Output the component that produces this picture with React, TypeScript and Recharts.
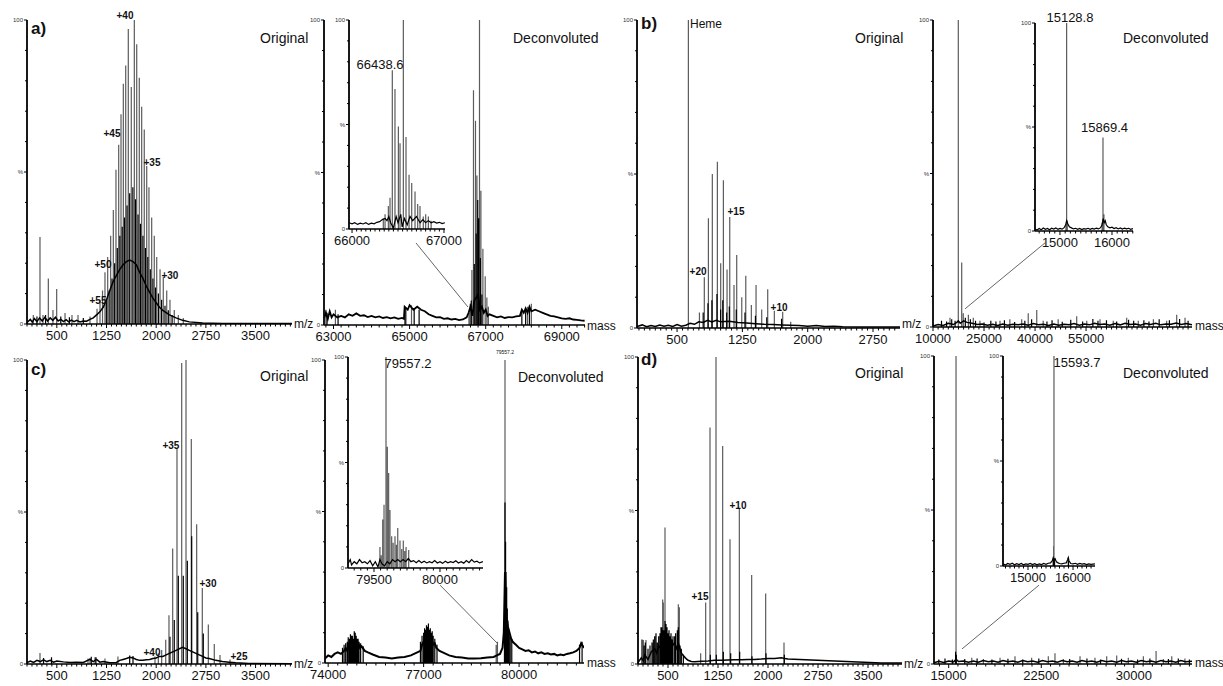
import React from 'react';
import { LineChart, Line, XAxis, YAxis, ReferenceDot, ReferenceLine } from 'recharts';

const FONT = "'Liberation Sans', Arial, Helvetica, sans-serif";

type P = [number, number];

// ---------- a) Original ----------
const aOrigTicks = [500, 1250, 2000, 2750, 3500];
const aOrigGrey: P[] = [[145,3],[246,28.6],[291,3],[372,15],[442,4.6],[498,11.5],[624,3.6],[729,3],[820,3],[1001,2.5],[1107,5],[1152,8],[1190,11],[1227,17],[1268,22],[1313,29],[1353,37.5],[1393,50.7],[1434,59],[1469,69],[1504,79],[1540,85],[1579,97],[1624,78],[1670,100],[1706,92],[1745,81],[1781,71.5],[1820,64],[1857,52],[1891,45],[1932,35],[1971,29],[2008,22],[2058,18],[2107,15.5],[2159,11],[2208,8],[2273,4.6],[2334,3],[2409,2]];
const aOrigBlack: P[] = [[1248,8],[1290,11],[1333,15],[1373,20],[1413,25],[1452,29],[1487,32],[1522,35],[1560,39],[1600,43],[1648,45],[1688,41],[1726,36],[1763,33],[1800,29],[1838,25],[1874,22],[1911,18],[1951,15],[1990,12],[2033,10],[2082,8],[2133,6],[2183,4.5],[2240,3],[200,2.5],[330,3],[560,2.5],[690,2.2],[900,2]];
const aOrigBase: P[] = [[50,0.5],[100,1.5],[130,0.6],[160,1.8],[200,0.8],[240,2],[280,1],[320,2.2],[360,1],[400,2],[440,1.2],[480,2.2],[520,1],[560,1.5],[600,0.8],[640,1.4],[680,0.7],[720,1.3],[760,0.8],[800,1.2],[850,0.7],[900,1],[950,0.9],[1000,1.5],[1050,2],[1100,3],[1150,4],[1200,5.5],[1250,8],[1300,11],[1350,14],[1400,16],[1450,18],[1500,19.5],[1550,20.5],[1600,21],[1650,20.5],[1700,19.5],[1750,17],[1800,15],[1850,12.5],[1900,10.5],[1950,8.5],[2000,7],[2050,5.5],[2100,4.5],[2200,3],[2300,2],[2400,1.2],[2500,0.7],[2700,0.3],[3000,0.2],[4050,0.2]];
const aOrigNotes: [number, number, string][] = [[1529,101.6,'+40'],[1333,62.8,'+45'],[1937,53,'+35'],[1197,19.7,'+50'],[1122,7.6,'+55'],[2208,16,'+30']];

// ---------- a) Deconvoluted ----------
const aDecTicks = [63000, 65000, 67000, 69000];
const aDecGrey: P[] = [[62800,5],[63050,5],[64870,6],[65050,6.5],[66560,4],[66593,7],[66637,18],[66679,77],[66732,67],[66769,49],[66837,100],[66874,44],[66926,25],[66987,16],[67031,9],[67070,6],[68100,6],[68200,7]];
const aDecBlack: P[] = [[62830,4],[63120,3.5],[64900,5.5],[65120,5.5],[65250,5],[66620,8],[66700,20],[66750,30],[66790,41],[66816,35],[66860,22],[66900,10],[67950,5],[68050,5.5],[68150,6]];
const aDecBase: P[] = [[62760,2.5],[62800,4],[62850,2],[62900,4.5],[62950,2.5],[63000,3.5],[63100,2.5],[63200,3],[63300,2.5],[63400,3.5],[63500,3],[63600,3.8],[63700,3],[63800,3.2],[63900,2.6],[64000,3],[64100,2.5],[64200,2.8],[64300,2.3],[64400,2.6],[64500,2.2],[64600,2.5],[64700,2],[64800,2.3],[64850,2],[64870,6],[64950,5],[65000,6.5],[65100,5],[65200,6],[65300,5],[65400,4.5],[65500,3.5],[65600,3],[65700,2.5],[65800,2.6],[65900,2],[66000,2.2],[66100,1.8],[66200,2],[66300,1.6],[66400,1.8],[66500,2.5],[66550,4],[66600,6],[66650,3],[66700,8],[66800,10],[66850,5],[66900,6],[66950,4],[67000,5],[67050,3],[67100,3.5],[67200,3],[67300,2.5],[67400,2.8],[67500,2.3],[67600,2.6],[67700,2.5],[67800,2.8],[67900,3],[67950,5],[68000,4],[68050,5.5],[68100,4],[68150,6],[68200,4.5],[68300,5],[68400,4.5],[68500,4],[68600,3.5],[68700,3],[68800,2.8],[68900,2.5],[69000,2.2],[69100,2],[69200,2.2],[69300,1.8],[69400,1.7],[69500,1.5],[69600,1.4]];
const aDecLink: P[] = [[65168,26.9],[66534,5.9]];

// ---------- a) inset ----------
const aInsTicks = [66000, 67000];
const aInsGrey: P[] = [[66340,5],[66359,7],[66395,11],[66413,15],[66438,76],[66467,67],[66504,49],[66522,41],[66558,100],[66587,44],[66620,26],[66649,22],[66685,18],[66714,12],[66739,11],[66775,6],[66801,7],[66830,6],[66860,4]];
const aInsBase: P[] = [[65967,3],[66000,2.5],[66030,3],[66060,2.2],[66090,2.8],[66120,2.4],[66150,3],[66180,2.2],[66210,2.8],[66240,2.5],[66270,3.2],[66300,3.5],[66330,4.5],[66360,5],[66380,4],[66400,6],[66420,3],[66450,0.5],[66480,6],[66500,3],[66530,7],[66545,1],[66570,5],[66600,2],[66630,6],[66660,4],[66700,6],[66740,3],[66770,4.5],[66800,3],[66830,4],[66860,3],[66890,3.5],[66920,2.8],[66950,3.2],[66980,2.6],[67010,3]];
const aInsNotes: [number, number, string][] = [[66304,79,'66438.6']];

// ---------- b) Original ----------
const bOrigTicks = [500, 1250, 2000, 2750];
const bOrigGrey: P[] = [[630,100],[757,5],[813,16.5],[860,35.6],[905,50],[963,54],[1001,21],[1032,48],[1074,19],[1105,36],[1154,14],[1185,23.7],[1243,10],[1289,17],[1353,7.5],[1407,14],[1472,6],[1541,12.6],[1617,5.6],[1713,5.3],[1805,2]];
const bOrigBlack: P[] = [[800,5],[855,8],[900,9],[958,11],[1000,6],[1025,9],[1070,5],[1100,7],[1180,6],[1280,5],[1400,4],[1530,3.5],[1700,3]];
const bOrigBase: P[] = [[40,0.5],[100,1],[150,0.4],[200,0.8],[250,0.5],[300,1],[350,0.6],[400,0.9],[450,0.5],[500,1.1],[550,0.6],[600,0.9],[650,1.5],[700,1.2],[750,2],[800,1.8],[850,2.5],[900,2],[950,2.5],[1000,2],[1100,2.2],[1200,1.8],[1300,1.6],[1400,1.4],[1500,1.2],[1600,1.1],[1700,1],[1800,0.9],[1900,0.8],[2000,0.6],[2100,0.8],[2200,0.5],[2300,0.6],[2400,0.4],[2600,0.3],[2800,0.3],[3060,0.3]];
const bOrigNotes: [number, number, string][] = [[741,18.2,'+20'],[1177,37.7,'+15'],[1671,6.8,'+10']];

// ---------- b) Deconvoluted ----------
const bDecTicks = [10000, 25000, 40000, 55000];
const bDecGrey: P[] = [[15000,3],[17440,100],[18440,21],[18900,4.5],[20400,4],[21850,3],[23800,2],[29700,2],[32600,2.5],[36080,2.5],[38000,4.5],[40500,5.5],[42400,2],[46800,2.5],[52250,3.5],[55200,2],[59100,2.5],[63000,2],[66950,3],[70350,2],[74800,2.5],[78700,2],[81650,4],[84100,3]];
const bDecBlack: P[] = [[12500,2],[14000,1.8],[15500,2.5],[16500,2],[19500,3],[21000,2.5],[22500,2],[25000,1.5],[27000,2],[28500,1.8],[31000,2.2],[34000,1.6],[37000,2],[39000,2.5],[43500,1.8],[45000,2.2],[48000,1.7],[50500,2.4],[54000,1.8],[57000,2.6],[58500,2],[61000,2.2],[64000,1.8],[67500,2.4],[69000,2],[72000,2.2],[73500,1.8],[76500,2.5],[79500,2.2],[82500,2.6],[85000,2]];
const bDecBase: P[] = [[10000,0.3],[11500,0.8],[13000,0.5],[14500,1.2],[16000,0.8],[17000,1.5],[17440,2],[18000,1.2],[19000,2],[20000,1.5],[21500,1.2],[23000,0.8],[24500,1],[26000,0.6],[27500,0.9],[29000,0.5],[30500,1],[32000,0.6],[33500,0.9],[35000,0.7],[36500,1],[38000,0.6],[39500,1.1],[41000,0.7],[42500,0.9],[44000,0.5],[45500,1],[47000,0.6],[48500,0.9],[50000,0.7],[51500,1.1],[53000,0.6],[54500,1],[56000,0.7],[57500,1.2],[59000,0.8],[60500,1],[62000,0.6],[63500,1.1],[65000,0.7],[66500,1.2],[68000,0.8],[69500,1],[71000,0.6],[72500,1.1],[74000,0.8],[75500,1.2],[77000,0.7],[78500,1],[80000,0.9],[81500,1.3],[83000,0.8],[84500,1.1],[86150,0.7]];
const bDecLink: P[] = [[42930,27.4],[19400,5.9]];

// ---------- b) inset ----------
const bInsTicks = [15000, 16000];
const bInsGrey: P[] = [[15115,3],[15128,100],[15140,5],[15810,4],[15827,45],[15845,8]];
const bInsBase: P[] = [[14520,1],[14560,0.5],[14600,1.2],[14640,0.6],[14680,1.4],[14720,0.8],[14760,1.2],[14800,0.6],[14840,1.3],[14880,0.9],[14920,1.5],[14960,0.8],[15000,1.2],[15040,0.9],[15080,1.6],[15110,3],[15128,5],[15150,3.5],[15180,2],[15220,1.5],[15260,1],[15300,1.3],[15340,0.8],[15380,1.2],[15420,0.7],[15460,1.1],[15500,0.9],[15540,1.3],[15580,0.8],[15620,1.2],[15660,0.9],[15700,1.4],[15740,1],[15780,1.6],[15810,3],[15830,6],[15850,4],[15870,5],[15890,3],[15920,2],[15960,1.5],[16000,1.8],[16040,1.2],[16080,1.6],[16120,1],[16160,1.5],[16200,0.9],[16240,1.4],[16280,1],[16320,1.3],[16360,0.8],[16404,1.2]];
const bInsNotes: [number, number, string][] = [[15192,102.9,'15128.8'],[15856,50,'15869.4']];

// ---------- c) Original ----------
const cOrigTicks = [500, 1250, 2000, 2750, 3500];
const cOrigGrey: P[] = [[246,3.6],[971,1.8],[1001,2],[1076,2.2],[1227,1.8],[1423,2.5],[1982,2.5],[2032,3.5],[2083,4.6],[2144,8],[2193,16],[2249,38],[2314,71],[2385,99],[2450,100],[2530,74],[2611,46],[2696,25],[2787,13],[2877,6.6],[2963,3],[3114,1.5]];
const cOrigBlack: P[] = [[2208,9],[2273,14.5],[2334,29],[2409,29],[2470,34],[2536,42],[2627,17],[2711,10],[300,2],[420,2.2],[1020,2.4],[1090,2.2],[1600,2.8],[1650,2.6]];
const cOrigBase: P[] = [[50,0.5],[100,1],[150,0.5],[200,1.2],[250,0.8],[300,1.4],[350,0.8],[400,1.2],[450,0.6],[500,1],[600,0.7],[700,0.5],[800,0.6],[900,0.5],[1000,1.5],[1050,0.8],[1100,1.5],[1150,0.6],[1200,0.8],[1300,0.4],[1400,0.5],[1450,1.2],[1500,1.5],[1550,1.8],[1600,2.2],[1650,2],[1700,1.5],[1750,1.2],[1800,1.2],[1850,1.4],[1900,1.5],[1950,1.8],[2000,2],[2050,2.5],[2100,2.5],[2150,3],[2200,3.5],[2250,4],[2300,4.5],[2350,5],[2400,5.5],[2450,5],[2500,4.5],[2550,4],[2600,3.5],[2650,3],[2700,2.5],[2750,2],[2800,1.8],[2900,1.2],[3000,0.8],[3100,0.6],[3200,0.4],[3400,0.2],[4050,0.1]];
const cOrigNotes: [number, number, string][] = [[2223,72,'+35'],[2782,26.6,'+30'],[1937,3.9,'+40'],[3250,2.6,'+25']];

// ---------- c) Deconvoluted ----------
const cDecTicks = [74000, 77000, 80000];
const cDecGrey: P[] = [[79280,6],[79320,7],[79557,100]];
const cDecBlack: P[] = [[74450,5],[74500,6],[74550,6.5],[74600,7],[74630,8.5],[74670,8],[74700,9.5],[74730,9],[74760,9],[74790,8],[74820,10.5],[74850,10],[74880,9],[74910,8],[74940,8],[74970,7],[75020,6.5],[75100,5.5],[76900,7],[76950,9],[77000,10],[77030,11.5],[77060,11],[77090,12.5],[77120,12],[77150,13],[77180,11],[77210,11.5],[77240,10],[77270,10.5],[77300,9],[77350,8],[77420,6],[79540,12],[79557,53],[79575,40],[79590,30],[79610,25],[79630,18],[79650,14],[79680,11],[79720,9],[79770,8],[81900,6],[81980,7]];
const cDecBase: P[] = [[73900,1.5],[74000,2.5],[74100,2],[74200,3],[74300,3.5],[74400,3],[74500,4],[74550,5],[74600,4],[74650,6],[74700,5],[74750,7],[74800,5.5],[74850,7.5],[74900,6],[74950,6.5],[75000,5],[75050,5.5],[75150,4],[75250,3.5],[75400,2.8],[75600,2],[75800,1.8],[76000,1.5],[76200,1.8],[76400,2],[76600,2.5],[76800,3.5],[76900,4],[76950,6],[77000,7],[77050,8.5],[77100,7],[77150,9],[77200,7.5],[77250,8],[77300,6],[77350,6.5],[77400,5],[77500,4],[77600,3.5],[77800,2.5],[78000,2],[78200,1.8],[78400,1.5],[78600,1.5],[78800,1.6],[79000,1.8],[79200,2],[79300,2.5],[79400,3],[79480,5],[79520,10],[79557,30],[79600,15],[79650,12],[79700,10],[79750,8],[79800,7],[79900,6],[80000,5],[80100,4.5],[80200,4],[80300,4.2],[80400,3.5],[80500,3.8],[80600,3.2],[80700,3.5],[80800,3],[80900,3.2],[81000,2.8],[81100,3],[81200,2.5],[81300,2.8],[81400,2.6],[81500,3],[81600,3.2],[81700,3.5],[81800,4],[81900,5],[81950,6.5],[82040,5]];
const cDecNotes: [number, number, string][] = [[79557,102.6,'79557.2']];
const cDecLink: P[] = [[77516,25.7],[79306,6.6]];

// ---------- c) inset ----------
const cInsTicks = [79500, 80000];
const cInsGrey: P[] = [[79545,10],[79555,6],[79566,23],[79576,30],[79591,100],[79601,57.5],[79611,45],[79621,27.5],[79634,15],[79645,12],[79659,15],[79670,11],[79680,19],[79697,13],[79710,9],[79722,13],[79733,8],[79743,10],[79763,8.5]];
const cInsBase: P[] = [[79303,2],[79320,4],[79330,1.5],[79350,3],[79370,2],[79390,4],[79410,2.5],[79430,3],[79450,2],[79470,3.5],[79490,1],[79510,3],[79530,0.5],[79545,4],[79560,2],[79580,1],[79600,3],[79620,2],[79640,4],[79660,3],[79680,4],[79700,3],[79720,4],[79740,3],[79760,4.5],[79780,3],[79800,3.5],[79820,2.5],[79840,3.5],[79860,2.5],[79880,3.2],[79900,2.4],[79920,3],[79940,2.5],[79960,3.5],[79980,2.4],[80000,3],[80020,2.2],[80040,3.2],[80060,2.5],[80080,3],[80100,2.6],[80120,3.4],[80140,2.4],[80160,3],[80180,2.3],[80200,3.5],[80220,2.5],[80240,4],[80260,2.8],[80280,3.2],[80300,2.4],[80326,3]];
const cInsNotes: [number, number, string][] = [[79758,97,'79557.2']];

// ---------- d) Original ----------
const dOrigTicks = [500, 1250, 2000, 2750, 3500];
const dOrigGrey: P[] = [[130,7.8],[170,7.8],[280,6],[420,21],[430,20],[455,44.5],[655,19.5],[670,18.5],[990,3.5],[1065,20],[1130,77],[1220,100],[1320,71],[1430,40.6],[1570,50.7],[1755,29],[1965,23],[2240,7]];
const dOrigBlack: P[] = [[110,8],[140,6],[160,7],[200,5],[230,6],[260,7],[280,8],[300,9],[320,10],[340,7],[360,9],[380,10],[395,12],[410,12],[425,11],[440,11],[455,14],[470,13],[485,12],[500,10],[515,11],[530,9],[545,10],[560,8],[575,9],[600,9],[615,10],[640,11],[655,12],[680,6],[700,5],[730,3],[1135,3],[1225,3],[1330,4],[1440,3.5],[1575,4],[1760,2.5],[1970,3.5],[2245,3]];
const dOrigBase: P[] = [[50,0.5],[100,2],[130,1],[150,3],[200,1.5],[250,4],[300,5],[330,3.5],[360,6],[390,5],[420,8],[450,6],[480,9],[510,7],[540,8],[570,6],[600,7],[630,5],[660,6.5],[690,4],[720,3],[760,2],[800,1.2],[850,0.8],[900,0.7],[1000,0.9],[1100,1],[1200,1.2],[1300,1.2],[1400,1.3],[1500,1.4],[1600,1.4],[1700,1.5],[1800,1.5],[1900,1.6],[2000,1.8],[2100,1.8],[2200,2],[2250,1.8],[2300,1.6],[3700,0.3],[3800,0.3],[4010,0.3]];
const dOrigNotes: [number, number, string][] = [[980,22,'+15'],[1550,51.5,'+10']];

// ---------- d) Deconvoluted ----------
const dDecTicks = [15000, 22500, 30000];
const dDecGrey: P[] = [[15594,100],[16870,2],[17810,1.6],[19160,2],[20370,2.5],[21720,2],[23070,2.5],[23610,3.5],[24290,1.6],[25640,2.5],[26850,2],[27800,2.5],[28610,2.8],[29550,2],[30770,2.5],[31800,4.2],[32390,1.6],[33070,2.5],[34140,1.8]];
const dDecBlack: P[] = [[14200,1.5],[14700,1.8],[15300,1.5],[15560,4],[15620,3],[16300,1.6],[17300,1.8],[18500,1.5],[19800,1.7],[21000,1.5],[22300,1.8],[24800,1.6],[26200,1.8],[27300,1.5],[29000,1.7],[30300,1.5],[31300,1.8],[32800,1.6],[33600,1.8],[34500,1.5]];
const dDecBase: P[] = [[13810,0.4],[14200,0.9],[14600,0.5],[15000,1],[15400,0.7],[15600,1.5],[15800,0.8],[16200,1],[16600,0.6],[17000,1],[17400,0.6],[17800,1.1],[18200,0.7],[18600,1],[19000,0.6],[19400,1.1],[19800,0.7],[20200,1],[20600,0.6],[21000,1.1],[21400,0.7],[21800,1],[22200,0.6],[22600,1.1],[23000,0.7],[23400,1],[23800,0.6],[24200,1.1],[24600,0.7],[25000,1],[25400,0.6],[25800,1.1],[26200,0.7],[26600,1],[27000,0.6],[27400,1.1],[27800,0.7],[28200,1],[28600,0.6],[29000,1.1],[29400,0.7],[29800,1],[30200,0.6],[30600,1.1],[31000,0.7],[31400,1],[31800,0.6],[32200,1.1],[32600,0.7],[33000,1],[33400,0.6],[33800,1.1],[34200,0.7],[34710,0.9]];
const dDecLink: P[] = [[22317,25.6],[16080,4.9]];

// ---------- d) inset ----------
const dInsTicks = [15000, 16000];
const dInsGrey: P[] = [[15570,9.5],[15577,100],[15895,4]];
const dInsBlack: P[] = [[15560,3],[15585,3.5],[15590,2],[15900,2.5]];
const dInsBase: P[] = [[14445,1],[14500,0.5],[14550,1.2],[14600,0.8],[14650,1.3],[14700,0.6],[14750,1.1],[14800,0.7],[14850,1.2],[14900,0.6],[14950,1],[15000,0.8],[15050,1.2],[15100,0.7],[15150,1.1],[15200,0.6],[15250,1],[15300,0.7],[15350,1.2],[15400,0.8],[15450,1.3],[15500,1.5],[15540,2.5],[15560,4],[15577,3],[15600,3.5],[15630,2],[15670,1.5],[15700,1.2],[15750,1],[15800,1.3],[15850,1.5],[15880,3],[15895,4],[15910,2.5],[15950,1.2],[16000,1],[16050,1.3],[16100,0.8],[16150,1.2],[16200,0.9],[16250,1.1],[16300,0.7],[16350,1],[16400,0.8],[16488,1]];
const dInsNotes: [number, number, string][] = [[16088,97,'15593.7']];

// ---------- helpers ----------
const toSticks = (pairs: P[]) => {
  const out: any[] = [];
  pairs.forEach(([x, h]) => { out.push({ x, y: 0 }, { x, y: h }, { x, y: null }); });
  return out;
};
const toLine = (pairs: P[]) => pairs.map(([x, y]) => ({ x, y }));

const XTick = (props: any) => {
  const { x, y, payload, labels, fs } = props;
  const v = payload.value;
  const major = labels.some((l: number) => Math.abs(l - v) < 1e-6);
  return (
    <g>
      <line x1={x} x2={x} y1={y} y2={y + (major ? 4 : 2.5)} stroke="#000" strokeWidth={1} />
      {major && (
        <text x={x} y={y + 16} textAnchor="middle" fontSize={fs} fontFamily={FONT} fill="#111">{v}</text>
      )}
    </g>
  );
};

const YTick = (props: any) => {
  const { x, y, payload } = props;
  const v = payload.value;
  const major = v % 50 === 0;
  const txt = v === 100 ? '100' : v === 50 ? '%' : v === 0 ? '0' : '';
  return (
    <g>
      <line x1={x} x2={x - (major ? 3 : 2)} y1={y} y2={y} stroke="#000" strokeWidth={1} />
      {txt && (
        <text x={x - 4} y={y + 2} textAnchor="end" fontSize={6} fontFamily={FONT} fill="#333">{txt}</text>
      )}
    </g>
  );
};

type Cfg = {
  left: number; top: number; width: number; height: number;
  domain: [number, number]; labels: number[]; step: number;
  grey: P[]; black?: P[]; base: P[];
  notes?: [number, number, string][]; noteSize?: number; noteBold?: boolean;
  link?: P[]; fs?: number; baseW?: number;
};

const YW = 22, MT = 10, XH = 24, MR = 4;

function Spectrum({ c }: { c: Cfg }) {
  const ticks: number[] = [];
  const s0 = c.labels[0];
  for (let k = -200; k <= 400; k++) {
    const v = s0 + k * c.step;
    if (v >= c.domain[0] - 1e-6 && v <= c.domain[1] + 1e-6) ticks.push(v);
  }
  const yTicks = [0, 10, 20, 30, 40, 50, 60, 70, 80, 90, 100];
  return (
    <div style={{ position: 'absolute', left: c.left - YW, top: c.top - MT }}>
      <LineChart width={YW + c.width + MR} height={MT + c.height + XH} margin={{ top: MT, right: MR, bottom: 0, left: 0 }}>
        <XAxis type="number" dataKey="x" domain={c.domain} ticks={ticks} interval={0} allowDataOverflow height={XH}
          tickSize={0} tickMargin={0} tickLine={false} axisLine={{ stroke: '#000', strokeWidth: 1.4 }}
          tick={<XTick labels={c.labels} fs={c.fs ?? 13} />} />
        <YAxis type="number" domain={[0, 100]} ticks={yTicks} interval={0} allowDataOverflow width={YW}
          tickSize={0} tickMargin={0} tickLine={false} axisLine={{ stroke: '#000', strokeWidth: 1.8 }}
          tick={<YTick />} />
        <Line data={toSticks(c.grey)} dataKey="y" stroke="#5c5c5c" strokeWidth={1.2} dot={false} isAnimationActive={false} connectNulls={false} />
        <Line data={toLine(c.base)} dataKey="y" stroke="#000" strokeWidth={c.baseW ?? 1.5} dot={false} isAnimationActive={false} />
        {c.black && (
          <Line data={toSticks(c.black)} dataKey="y" stroke="#000" strokeWidth={1.2} dot={false} isAnimationActive={false} connectNulls={false} />
        )}
        {c.link && (
          <ReferenceLine segment={[{ x: c.link[0][0], y: c.link[0][1] }, { x: c.link[1][0], y: c.link[1][1] }]}
            stroke="#555" strokeWidth={0.9} ifOverflow="visible" />
        )}
        {(c.notes || []).map(([x, y, t], i) => (
          <ReferenceDot key={i} x={x} y={y} r={1} fill="none" stroke="none" ifOverflow="visible"
            label={{ value: t, position: 'center', fontSize: c.noteSize ?? 10, fontWeight: c.noteBold ? 'bold' : 'normal', fill: '#111', fontFamily: FONT }} />
        ))}
      </LineChart>
    </div>
  );
}

const panels: Cfg[] = [
  { left: 27, top: 20, width: 265, height: 304, domain: [50, 4050], labels: aOrigTicks, step: 75, grey: aOrigGrey, black: aOrigBlack, base: aOrigBase, notes: aOrigNotes, noteSize: 10, noteBold: true },
  { left: 324, top: 20, width: 261, height: 305, domain: [62750, 69610], labels: aDecTicks, step: 200, grey: aDecGrey, black: aDecBlack, base: aDecBase, link: aDecLink, baseW: 1.8 },
  { left: 349, top: 20, width: 96, height: 209, domain: [65967, 67011], labels: aInsTicks, step: 50, grey: aInsGrey, base: aInsBase, notes: aInsNotes, noteSize: 13, baseW: 1.2 },
  { left: 637, top: 20, width: 263, height: 308, domain: [40, 3060], labels: bOrigTicks, step: 62.5, grey: bOrigGrey, black: bOrigBlack, base: bOrigBase, notes: bOrigNotes, noteSize: 10, noteBold: true },
  { left: 933, top: 20, width: 259, height: 307, domain: [10000, 86150], labels: bDecTicks, step: 1500, grey: bDecGrey, black: bDecBlack, base: bDecBase, link: bDecLink },
  { left: 1035, top: 23, width: 98, height: 208, domain: [14520, 16404], labels: bInsTicks, step: 100, grey: bInsGrey, base: bInsBase, notes: bInsNotes, noteSize: 13, baseW: 1.2 },
  { left: 27, top: 360, width: 265, height: 304, domain: [50, 4050], labels: cOrigTicks, step: 75, grey: cOrigGrey, black: cOrigBlack, base: cOrigBase, notes: cOrigNotes, noteSize: 10, noteBold: true },
  { left: 325, top: 360, width: 259, height: 303, domain: [73900, 82040], labels: cDecTicks, step: 300, grey: cDecGrey, black: cDecBlack, base: cDecBase, notes: cDecNotes, noteSize: 5, link: cDecLink, baseW: 2 },
  { left: 348, top: 357, width: 135, height: 211, domain: [79303, 80326], labels: cInsTicks, step: 50, grey: cInsGrey, base: cInsBase, notes: cInsNotes, noteSize: 13, baseW: 1.2 },
  { left: 638, top: 357, width: 264, height: 307, domain: [50, 4010], labels: dOrigTicks, step: 75, grey: dOrigGrey, black: dOrigBlack, base: dOrigBase, notes: dOrigNotes, noteSize: 10, noteBold: true },
  { left: 934, top: 356, width: 258, height: 308, domain: [13810, 34710], labels: dDecTicks, step: 750, grey: dDecGrey, black: dDecBlack, base: dDecBase, link: dDecLink },
  { left: 1003, top: 356, width: 92, height: 210, domain: [14445, 16488], labels: dInsTicks, step: 100, grey: dInsGrey, black: dInsBlack, base: dInsBase, notes: dInsNotes, noteSize: 13, baseW: 1.2 },
];

const texts: [string, number, number, number, boolean][] = [
  ['a)', 31, 29, 17, true], ['Original', 260, 38, 14, false], ['m/z', 294, 324, 12, false],
  ['Deconvoluted', 513, 38, 14, false], ['mass', 587, 326, 12, false],
  ['Heme', 690, 24, 12, false],
  ['b)', 641, 24, 17, true], ['Original', 855, 38, 14, false], ['m/z', 902, 324, 12, false],
  ['Deconvoluted', 1123, 38, 14, false], ['mass', 1195, 326, 12, false],
  ['c)', 31, 370, 17, true], ['Original', 260, 376, 14, false], ['m/z', 294, 664, 12, false],
  ['Deconvoluted', 518, 377, 14, false], ['mass', 587, 663, 12, false],
  ['d)', 641, 360, 17, true], ['Original', 855, 373, 14, false], ['m/z', 904, 664, 12, false],
  ['Deconvoluted', 1123, 373, 14, false], ['mass', 1195, 663, 12, false],
];

export default function App() {
  return (
    <div style={{ position: 'absolute', left: 0, top: 0, width: 1223, height: 686, background: '#fff', overflow: 'hidden', fontFamily: FONT }}>
      <style>{`.recharts-surface{overflow:visible}.recharts-wrapper{overflow:visible}`}</style>
      {panels.map((c, i) => <Spectrum key={i} c={c} />)}
      {texts.map(([t, x, cy, fs, b], i) => (
        <div key={i} style={{ position: 'absolute', left: x, top: cy - fs * 0.6, fontSize: fs, lineHeight: `${fs * 1.2}px`, fontWeight: b ? 'bold' : 'normal', color: '#111', whiteSpace: 'nowrap' }}>{t}</div>
      ))}
    </div>
  );
}
